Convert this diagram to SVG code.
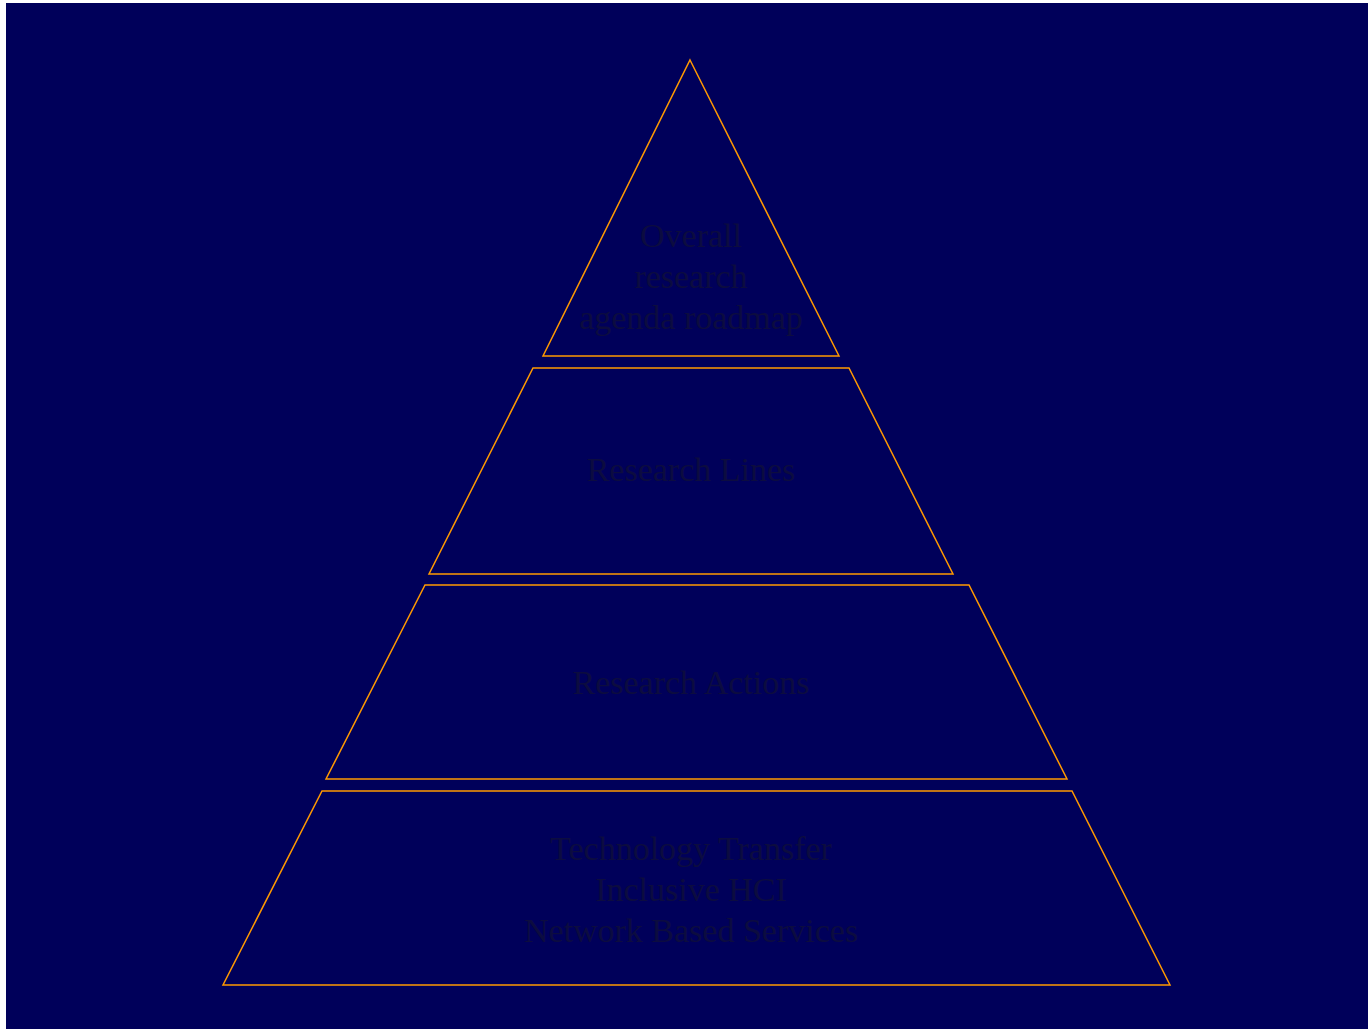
<svg xmlns="http://www.w3.org/2000/svg" width="1368" height="1029" viewBox="0 0 1368 1029">
<style>
.lvl{fill:none;stroke:#ff9900;stroke-width:1.5;}
.t{font-family:"Liberation Serif","Times New Roman",serif;font-size:34px;fill:#0c0c40;text-anchor:middle;}
</style>
<rect x="0" y="0" width="1368" height="1029" fill="#ffffff"/>
<rect x="6" y="3" width="1362" height="1026" fill="#00005a"/>
<g id="level1">
<polygon class="lvl" points="690,60 839,356 543,356"/>
<text class="t" x="691" y="247">Overall</text>
<text class="t" x="691" y="288">research</text>
<text class="t" x="691" y="329">agenda roadmap</text>
</g>
<g id="level2">
<polygon class="lvl" points="533,368 849,368 953,574 429,574"/>
<text class="t" x="691" y="481">Research Lines</text>
</g>
<g id="level3">
<polygon class="lvl" points="425,585 969,585 1067,779 326,779"/>
<text class="t" x="691" y="694">Research Actions</text>
</g>
<g id="level4">
<polygon class="lvl" points="322,791 1072,791 1170,985 223,985"/>
<text class="t" x="691" y="860">Technology Transfer</text>
<text class="t" x="691" y="901">Inclusive HCI</text>
<text class="t" x="691" y="942">Network Based Services</text>
</g>
<g id="connectors"></g>
</svg>
